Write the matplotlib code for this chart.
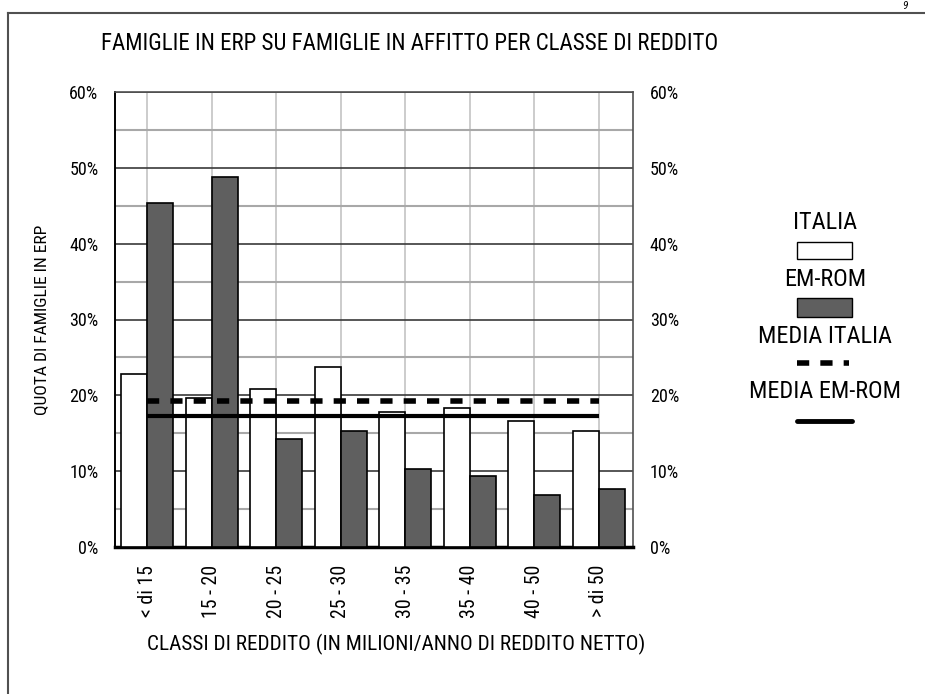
import matplotlib
matplotlib.use("Agg")
import matplotlib.pyplot as plt
import matplotlib.ticker as mtick
from matplotlib.patches import Rectangle
from matplotlib.lines import Line2D
import numpy as np

# *******************
# Data (percent)
# *******************
CLASSI = ["< di 15", "15 - 20", "20 - 25", "25 - 30", "30 - 35", "35 - 40", "40 - 50", "> di 50"]
ITALIA = [22.8, 19.6, 20.9, 23.7, 17.8, 18.3, 16.6, 15.3]
EM_ROM = [45.4, 48.8, 14.3, 15.3, 10.25, 9.4, 6.9, 7.65]
MEDIA_ITALIA = 19.2
MEDIA_EM_ROM = 17.3

TITLE = "FAMIGLIE IN ERP SU FAMIGLIE IN AFFITTO PER CLASSE DI REDDITO"
YLABEL = "QUOTA DI FAMIGLIE IN ERP"
XLABEL = "CLASSI DI REDDITO (IN MILIONI/ANNO DI REDDITO NETTO)"

DARK = "#5f5f5f"

plt.rcParams["font.family"] = ["Roboto Condensed", "Liberation Sans", "DejaVu Sans"]

W, H = 925, 694
fig = plt.figure(figsize=(W / 100, H / 100), dpi=100)
ax = fig.add_axes([115 / W, 1 - 547 / H, (633 - 115) / W, (547 - 92) / H])

x = np.arange(len(CLASSI))
bw = 0.40
ax.bar(x - bw / 2, ITALIA, width=bw, color="white", edgecolor="black", linewidth=1.2, zorder=3)
ax.bar(x + bw / 2, EM_ROM, width=bw, color=DARK, edgecolor="black", linewidth=1.2, zorder=3)

ax.plot([x[0], x[-1]], [MEDIA_ITALIA] * 2, color="black", lw=4, dashes=(2.2, 2.0),
        solid_capstyle="butt", dash_capstyle="butt", zorder=4)
ax.plot([x[0], x[-1]], [MEDIA_EM_ROM] * 2, color="black", lw=3, solid_capstyle="butt", zorder=4)

ax.set_xlim(-0.5, len(CLASSI) - 1 + 0.53)
ax.set_ylim(0, 60)
ax.set_yticks(np.arange(0, 61, 10))
ax.set_yticks(np.arange(5, 60, 10), minor=True)
ax.yaxis.set_major_formatter(mtick.FuncFormatter(lambda v, p: "%d%%" % v))
ax.grid(axis="y", which="major", color="#3a3a3a", lw=1.2, zorder=0)
ax.grid(axis="y", which="minor", color="#a8a8a8", lw=1.5, zorder=0)
ax.set_xticks(x)
ax.set_xticklabels(CLASSI, rotation=90, fontsize=14.3)
ax.grid(axis="x", which="major", color="#c4c4c4", lw=1.2, zorder=0)
ax.tick_params(axis="both", which="both", length=0)
ax.tick_params(axis="x", pad=13)
ax.tick_params(axis="y", pad=12, labelsize=13, labelright=True)

for s in ["top", "right"]:
    ax.spines[s].set_color("#505050")
    ax.spines[s].set_linewidth(1.2)
ax.spines["left"].set_color("black")
ax.spines["left"].set_linewidth(1.4)
ax.spines["bottom"].set_color("black")
ax.spines["bottom"].set_linewidth(2.5)

ax.set_ylabel(YLABEL, fontsize=12.6, labelpad=14)
ax.set_xlabel(XLABEL, fontsize=15.3)
ax.xaxis.set_label_coords((396 - 115) / (633 - 115), -(644 - 547) / (547 - 92))
ax.xaxis.label.set_va("center")
fig.text(410 / W, 1 - 44 / H, TITLE, ha="center", va="center", fontsize=16.5)

# *******************
# Legend (stacked, handles under labels)
# *******************
cx = 825 / W
fs = 17.5
fig.text(cx, 1 - 222 / H, "ITALIA", ha="center", va="center", fontsize=fs)
fig.add_artist(Rectangle((797 / W, 1 - 259 / H), 55 / W, 17 / H, transform=fig.transFigure,
                         facecolor="white", edgecolor="black", lw=1))
fig.text(cx, 1 - 280 / H, "EM-ROM", ha="center", va="center", fontsize=fs)
fig.add_artist(Rectangle((797 / W, 1 - 317 / H), 55 / W, 19 / H, transform=fig.transFigure,
                         facecolor=DARK, edgecolor="black", lw=1))
fig.text(cx, 1 - 336 / H, "MEDIA ITALIA", ha="center", va="center", fontsize=fs)
fig.add_artist(Line2D([797 / W, 849 / W], [1 - 363 / H] * 2, transform=fig.transFigure,
                      color="black", lw=4, dashes=(2.2, 2.0), dash_capstyle="butt"))
fig.text(cx, 1 - 392 / H, "MEDIA EM-ROM", ha="center", va="center", fontsize=fs)
fig.add_artist(Line2D([797 / W, 852 / W], [1 - 421 / H] * 2, transform=fig.transFigure,
                      color="black", lw=3.5, solid_capstyle="round"))

# page frame
fig.add_artist(Line2D([7.5 / W, 1.0], [1 - 13 / H] * 2, transform=fig.transFigure, color="#505050", lw=1.5))
fig.add_artist(Line2D([7.5 / W] * 2, [0, 1 - 13 / H], transform=fig.transFigure, color="#505050", lw=1.5))
fig.text(905 / W, 1 - 1 / H, "9", ha="center", va="top", fontsize=8, style="italic")

fig.savefig("out.png", dpi=100)
